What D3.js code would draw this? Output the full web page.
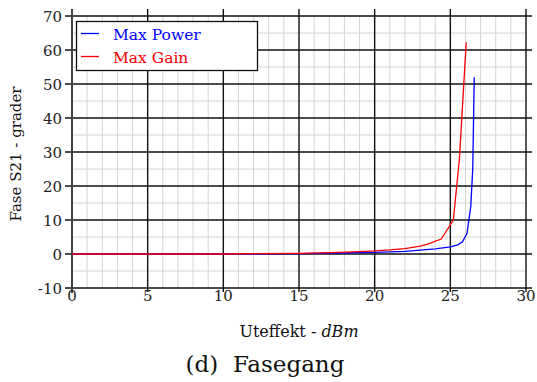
<!DOCTYPE html>
<html><head><meta charset="utf-8">
<script src="https://cdn.jsdelivr.net/npm/d3@7"></script>
<style>body{margin:0;background:#fff}svg{display:block}text{font-family:"DejaVu Serif",serif}</style>
</head><body>
<svg id="c" width="537" height="382"></svg>
<script>
const seriesNames = ["Max Power", "Max Gain"];
const seriesColors = ["#0000ff", "#ff0000"];
const maxPowerX = [0, 5, 10, 15, 18, 20, 22, 24, 25, 25.5, 25.8, 26.1, 26.35, 26.48, 26.58];
const maxPowerY = [0, 0, 0, 0.1, 0.3, 0.5, 0.8, 1.5, 2.1, 2.7, 3.6, 6, 14, 25, 52];
const maxGainX = [0, 5, 10, 15, 17, 19, 20, 21, 22, 23, 23.5, 24.4, 25.2, 25.6, 26.05];
const maxGainY = [0, 0, 0, 0.2, 0.4, 0.7, 0.9, 1.2, 1.6, 2.3, 2.9, 4.4, 10, 28, 62.3];
const xTicks = [0, 5, 10, 15, 20, 25, 30];
const yTicks = [-10, 0, 10, 20, 30, 40, 50, 60, 70];
const xLabel = "Uteffekt - ";
const xLabelUnit = "dBm";
const yLabel = "Fase S21 - grader";
const caption = "(d)  Fasegang";

const svg = d3.select("#c");
const L = 72, R = 526, T = 16, B = 288;
const x = d3.scaleLinear().domain([0, 30]).range([L, R]);
const y = d3.scaleLinear().domain([-10, 70]).range([B, T]);

// minor grid
const g = svg.append("g");
g.selectAll(".mx").data(d3.range(0, 31, 1).filter(v => v % 5)).join("line")
  .attr("x1", d => x(d)).attr("x2", d => x(d)).attr("y1", T).attr("y2", B)
  .attr("stroke", "#d4d4d4").attr("stroke-width", 1);
g.selectAll(".my").data(d3.range(-10, 71, 5).filter(v => v % 10)).join("line")
  .attr("x1", L).attr("x2", R).attr("y1", d => y(d)).attr("y2", d => y(d))
  .attr("stroke", "#d4d4d4").attr("stroke-width", 1);
// major grid (extends slightly past frame)
g.selectAll(".Mx").data(xTicks).join("line")
  .attr("x1", d => x(d)).attr("x2", d => x(d)).attr("y1", T - 7).attr("y2", B + 4)
  .attr("stroke", "#111").attr("stroke-width", 1.4);
g.selectAll(".My").data(yTicks).join("line")
  .attr("x1", L - 7).attr("x2", R + 6).attr("y1", d => y(d)).attr("y2", d => y(d))
  .attr("stroke", "#111").attr("stroke-width", 1.4);
// left axis line
g.append("line").attr("x1", L).attr("x2", L).attr("y1", T - 7).attr("y2", B + 5)
  .attr("stroke", "#444").attr("stroke-width", 2);

// tick labels
svg.append("g").selectAll("text").data(yTicks).join("text")
  .attr("x", 62).attr("y", d => y(d) + 5.5).attr("text-anchor", "end")
  .attr("font-size", 15).attr("fill", "#222").text(d => d);
svg.append("g").selectAll("text").data(xTicks).join("text")
  .attr("x", d => x(d)).attr("y", 301).attr("text-anchor", "middle")
  .attr("font-size", 15).attr("fill", "#222").text(d => d);

// lines
const line = d3.line().x(d => x(d[0])).y(d => y(d[1]));
const dataSets = [d3.zip(maxPowerX, maxPowerY), d3.zip(maxGainX, maxGainY)];
dataSets.forEach((ds, i) => {
  svg.append("path").datum(ds).attr("d", line).attr("fill", "none")
    .attr("stroke", seriesColors[i]).attr("stroke-width", 1.3);
});

// legend
const lg = svg.append("g");
lg.append("rect").attr("x", 76.5).attr("y", 21.5).attr("width", 181).attr("height", 49)
  .attr("fill", "#fff").attr("stroke", "#111").attr("stroke-width", 1.3);
seriesNames.forEach((n, i) => {
  const yy = 33.5 + i * 23;
  lg.append("line").attr("x1", 81).attr("x2", 99).attr("y1", yy).attr("y2", yy)
    .attr("stroke", seriesColors[i]).attr("stroke-width", 1.3);
  lg.append("text").attr("x", 113).attr("y", yy + 6).attr("font-size", 15.5)
    .attr("fill", seriesColors[i]).text(n);
});

// axis labels
const xl = svg.append("text").attr("x", (L + R) / 2).attr("y", 337).attr("text-anchor", "middle")
  .attr("font-size", 16).attr("fill", "#111");
xl.append("tspan").text(xLabel);
xl.append("tspan").attr("font-style", "italic").text(xLabelUnit);
svg.append("text").attr("transform", `translate(21,154) rotate(-90)`)
  .attr("text-anchor", "middle").attr("font-size", 15).attr("fill", "#111").text(yLabel);
svg.append("text").attr("x", 265).attr("y", 372).attr("text-anchor", "middle")
  .attr("font-size", 23).attr("fill", "#111").style("white-space", "pre").text(caption);
</script>
</body></html>
